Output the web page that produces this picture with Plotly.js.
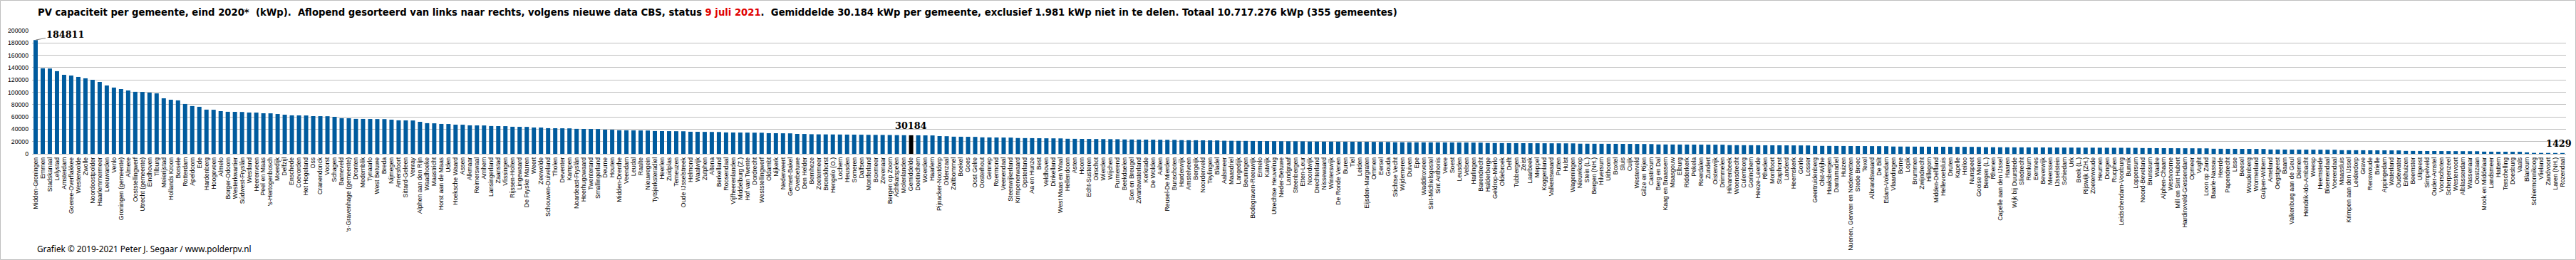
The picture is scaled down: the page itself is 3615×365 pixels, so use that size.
<!DOCTYPE html>
<html>
<head>
<meta charset="utf-8">
<script src="https://cdn.plot.ly/plotly-3.0.1.min.js"></script>
<style>
html,body{margin:0;padding:0;background:#fff;}
#chart{width:3615px;height:365px;}
</style>
</head>
<body>
<div id="chart"></div>
<script>
const gemeenten = [
"Midden-Groningen","Emmen","Stadskanaal","Lelystad","Amsterdam","Goeree-Overflakkee","Westerwolde","Zwolle","Noordoostpolder","Haarlemmermeer",
"Leeuwarden","Venlo","Groningen (gemeente)","Almere","Ooststellingwerf","Utrecht (gemeente)","Eindhoven","Tilburg","Meierijstad","Hollands Kroon",
"Borsele","Rotterdam","Apeldoorn","Ede","Hardenberg","Hoogeveen","Almelo","Borger-Odoorn","Westerkwartier","Súdwest-Fryslân",
"Westland","Heerenveen","Peel en Maas","'s-Hertogenbosch","Moerdijk","Delfzijl","Enschede","Coevorden","Het Hogeland","Oss",
"Cranendonck","Voorst","Schagen","Barneveld","'s-Gravenhage (gemeente)","Dronten","Medemblik","Tynaarlo","West Betuwe","Breda",
"Nijmegen","Amersfoort","Sittard-Geleen","Venray","Alphen aan den Rijn","Waadhoeke","Maastricht","Horst aan de Maas","Uden","Hoeksche Waard",
"Assen","Alkmaar","Reimerswaal","Arnhem","Lansingerland","Zaanstad","Vlissingen","Rijssen-Holten","Lingewaard","De Fryske Marren",
"Weert","Zeewolde","Schouwen-Duiveland","Tholen","Deventer","Kampen","Noardeast-Fryslân","Heerhugowaard","Twenterand","Smallingerland",
"Deurne","Houten","Midden-Drenthe","Veendam","Leudal","Raalte","Nieuwegein","Tytsjerksteradiel","Heerlen","Zuidplas",
"Terneuzen","Oude IJsselstreek","Helmond","Waalwijk","Zutphen","Altena","Berkelland","Roosendaal","Vijfheerenlanden","Middelburg (Z.)",
"Hof van Twente","Dordrecht","Weststellingwerf","Oldambt","Nijkerk","Nederweert","Gemert-Bakel","Overbetuwe","Den Helder","Bernheze",
"Zoetermeer","Bronckhorst","Hengelo (O.)","Lochem","Heusden","Someren","Dalfsen","Montferland","Boxmeer","Zevenaar",
"Bergen op Zoom","Achtkarspelen","Molenlanden","Gemiddelde","Doetinchem","Woerden","Haarlem","Pijnacker-Nootdorp","Oldenzaal","Zaltbommel",
"Boekel","Goes","Oost Gelre","Oosterhout","Gennep","Roermond","Veenendaal","Steenwijkerland","Krimpenerwaard","Opsterland",
"Aa en Hunze","Best","Veldhoven","Dinkelland","West Maas en Waal","Hellendoorn","Asten","Hoorn","Echt-Susteren","Oirschot",
"Wierden","Wijchen","Purmerend","Beekdaelen","Son en Breugel","Zwartewaterland","Kerkrade","De Wolden","Aalten","Reusel-De Mierden",
"Bunschoten","Harderwijk","Amstelveen","Bergeijk","Noordenveld","Teylingen","Bladel","Aalsmeer","Maasdriel","Langedijk",
"Beuningen","Bodegraven-Reeuwijk","Ermelo","Katwijk","Utrechtse Heuvelrug","Neder-Betuwe","Landgraaf","Steenbergen","Etten-Leur","Noordwijk",
"Drechterland","Nissewaard","Winterswijk","De Ronde Venen","Buren","Tiel","Leiden","Eijsden-Margraten","Ommen","Eersel",
"Gouda","Stichtse Vecht","Wijdemeren","Duiven","Epe","Waddinxveen","Sint-Michielsgestel","Sint Anthonis","Veere","Soest",
"Leusden","Velsen","Harlingen","Barendrecht","Halderberge","Geldrop-Mierlo","Oldebroek","Delft","Tubbergen","Zeist",
"Laarbeek","Meppel","Koggenland","Valkenswaard","Putten","Hulst","Wageningen","Nieuwkoop","Stein (L.)","Bergen (NH.)",
"Hilversum","Uithoorn","Boxtel","Sluis","Cuijk","Westerveld","Gilze en Rijen","Castricum","Berg en Dal","Kaag en Braassem",
"Maasgouw","Elburg","Ridderkerk","Pekela","Roerdalen","Zundert","Oisterwijk","Drimmelen","Hilvarenbeek","Woensdrecht",
"Culemborg","Gorinchem","Heeze-Leende","Rheden","Montfoort","Staphorst","Landerd","Heemskerk","Goirle","Losser",
"Geertruidenberg","Olst-Wijhe","Haaksbergen","Dantumadiel","Huizen","Nuenen, Gerwen en Nederwetten","Stede Broec","Texel","Albrandswaard","De Bilt",
"Edam-Volendam","Vlaardingen","Borne","Lopik","Brummen","Zwijndrecht","Hillegom","Midden-Delfland","Hellevoetsluis","Druten",
"Kapelle","Heiloo","Nunspeet","Gooise Meren","Bergen (L.)","Rhenen","Capelle aan den IJssel","Haaren","Wijk bij Duurstede","Sliedrecht",
"Renkum","Eemnes","Beverwijk","Meerssen","IJsselstein","Schiedam","Urk","Beek (L.)","Rijswijk (ZH.)","Zoeterwoude",
"Heumen","Dongen","Rucphen","Leidschendam-Voorburg","Bunnik","Loppersum","Noord-Beveland","Brunssum","Waalre","Alphen-Chaam",
"Westvoorne","Mill en Sint Hubert","Hardinxveld-Giessendam","Opmeer","Vught","Loon op Zand","Baarle-Nassau","Heerde","Papendrecht","Lisse",
"Beesel","Woudenberg","Wormerland","Gulpen-Wittem","Ameland","Oegstgeest","Baarn","Valkenburg aan de Geul","Diemen","Hendrik-Ido-Ambacht",
"Weesp","Heemstede","Bloemendaal","Voerendaal","Maassluis","Krimpen aan den IJssel","Leiderdorp","Grave","Renswoude","Brielle",
"Appingedam","Waterland","Oudewater","Enkhuizen","Beemster","Uitgeest","Simpelveld","Ouder-Amstel","Voorschoten","Scherpenzeel",
"Westervoort","Alblasserdam","Wassenaar","Oostzaan","Mook en Middelaar","Landsmeer","Hattem","Terschelling","Doesburg","Vaals",
"Blaricum","Schiermonnikoog","Vlieland","Zandvoort","Laren (NH.)","Rozendaal"
];

const kWp = [
184811,138900,138500,134200,128300,127100,124900,122600,120200,116800,
111000,107600,105200,102900,100700,100500,99400,98200,90200,87900,
86800,81000,77600,76400,71800,71600,69400,68300,68200,68000,
67100,67000,65900,65800,64700,63600,62500,62400,62300,61300,
61200,61100,60100,57900,57800,56800,56700,56600,56500,56400,
55500,54400,54300,54200,52000,49800,49600,48600,48500,47400,
47300,46300,46200,46100,45200,45100,45000,44000,43900,43800,
42800,42700,41700,41600,41500,41400,40600,40500,40400,40300,
39300,39200,38300,38200,38100,38000,37900,37100,37000,36900,
36800,36700,35900,35800,35700,35600,35500,34800,34700,34600,
34500,34400,34300,33600,33500,33400,33300,32400,32300,31900,
31700,31600,31500,31400,31300,31200,31100,30900,30800,30700,
30600,30400,30300,30184,30100,30000,29900,28900,28700,27900,
27800,27700,27600,26800,26700,26600,26500,26400,25700,25600,
25500,25400,25300,25200,25100,24500,24400,24300,24200,24100,
24000,23900,23800,23400,23300,23200,23100,23000,22900,22800,
22700,22300,22200,22100,22000,21900,21800,21300,21200,21100,
21000,20900,20800,20700,20600,20500,20450,20400,20350,20000,
19950,19900,19850,19800,19750,19700,19650,19600,19500,19400,
19300,18900,18850,18800,18750,18700,18650,18600,18550,18500,
18450,18400,18300,18200,17600,17550,17500,17450,17400,17350,
17300,17250,17200,17150,17100,17050,17000,16500,16450,16400,
16350,16300,16250,16200,16150,16100,16000,15900,15300,15250,
15200,15150,15100,15050,15000,14950,14900,14850,14200,14150,
14100,14050,14000,13950,13900,13850,13800,13750,13700,13650,
13000,12950,12900,12850,12800,12750,12700,12650,12600,12550,
12500,11900,11850,11800,11750,11700,11650,11600,11550,11500,
11450,11400,11350,11300,10800,10750,10700,10650,10600,10550,
10500,10450,10400,10350,10300,10250,10200,10150,10100,10050,
10000,9950,9900,9850,9800,9750,9400,9350,9300,9250,
9200,9150,9100,9050,9000,8950,8300,8250,8200,8150,
8100,8050,8000,7950,7100,7050,7000,6950,6900,6850,
6800,6750,6700,6650,6000,5950,5900,5850,5800,5750,
5700,5650,5600,4800,4750,4700,4650,4600,4550,4500,
4450,4400,4350,4300,3600,3550,3500,3450,3400,3350,
2400,1600,1550,1500,1450,1429
];

const yTicks = [0,20000,40000,60000,80000,100000,120000,140000,160000,180000,200000];
const maxLabel = "184811";
const avgLabel = "30184";
const minLabel = "1429";

const titleText = 'PV capaciteit per gemeente, eind 2020*  (kWp).  Aflopend gesorteerd van links naar rechts, volgens nieuwe data CBS, status <span style="color:#E00000">9 juli 2021</span>.  Gemiddelde 30.184 kWp per gemeente, exclusief 1.981 kWp niet in te delen. Totaal 10.717.276 kWp (355 gemeentes)';
const footerText = "Grafiek © 2019-2021 Peter J. Segaar / www.polderpv.nl";

const W = 3615, H = 365;
const M = {l: 45, r: 14, t: 43, b: 149};
const pw = W - M.l - M.r, ph = H - M.t - M.b;

const colors = gemeenten.map(g => g === "Gemiddelde" ? "#000000" : "#005B9E");
const iAvg = gemeenten.indexOf("Gemiddelde");
const iLast = gemeenten.length - 1;

const trace = {
  type: "bar", x: gemeenten, y: kWp,
  marker: {color: colors, line: {width: 0}},
  hoverinfo: "x+y"
};

// sizes tuned to match the measured text widths of the reference
const numFont = {family: "DejaVu Serif", size: 12.8, color: "#000", weight: 700};

const layout = {
  width: W, height: H, autosize: false,
  margin: M,
  paper_bgcolor: "#fff", plot_bgcolor: "#fff",
  bargap: 0.4, showlegend: false,
  title: {
    text: titleText,
    font: {family: "DejaVu Sans", size: 13.2, color: "#000", weight: 700},
    xref: "container", yref: "container",
    x: 53 / W, xanchor: "left",
    y: 1 - 17 / H, yanchor: "middle"
  },
  xaxis: {
    type: "category",
    tickmode: "array", tickvals: gemeenten, ticktext: gemeenten,
    tickangle: -90,
    tickfont: {family: "Liberation Sans", size: 8.8, color: "#000"},
    ticks: "", showline: false, showgrid: false, zeroline: false,
    ticklabelstandoff: 2,
    range: [-0.5, gemeenten.length - 0.5]
  },
  yaxis: {
    range: [0, 200000],
    tickmode: "array", tickvals: yTicks, tickformat: "d",
    tickfont: {family: "Liberation Sans", size: 8.7, color: "#000"},
    gridcolor: "#BFBFBF", gridwidth: 1,
    zeroline: true, zerolinecolor: "#BFBFBF", zerolinewidth: 1,
    showline: false, ticks: "", ticklabelstandoff: 4
  },
  annotations: [
    {x: gemeenten[0], y: kWp[0], text: maxLabel, font: numFont,
     showarrow: true, arrowhead: 0, arrowwidth: 1, arrowcolor: "#7F7F7F",
     ax: 42, ay: -8, xanchor: "center", yanchor: "middle"},
    {x: gemeenten[iAvg], y: kWp[iAvg], text: avgLabel, font: numFont,
     showarrow: false, xanchor: "center", yanchor: "bottom", yshift: 4},
    {x: gemeenten[iLast], y: kWp[iLast], text: minLabel, font: numFont,
     showarrow: false, xanchor: "center", yanchor: "bottom", yshift: 4, xshift: -5},
    {xref: "paper", yref: "paper", x: (50 - M.l) / pw, y: (M.t + ph - 349) / ph,
     xanchor: "left", yanchor: "middle", showarrow: false, text: footerText,
     font: {family: "Noto Sans", size: 11.8, color: "#000"}}
  ],
  shapes: [
    {type: "rect", xref: "paper", yref: "paper", layer: "below",
     x0: (0.5 - M.l) / pw, x1: (W - 0.5 - M.l) / pw,
     y0: (M.t + ph - (H - 0.5)) / ph, y1: (M.t + ph - 0.5) / ph,
     line: {color: "#BFBFBF", width: 1}, fillcolor: "rgba(0,0,0,0)"}
  ]
};

Plotly.newPlot("chart", [trace], layout, {displayModeBar: false, staticPlot: true});
</script>
</body>
</html>
